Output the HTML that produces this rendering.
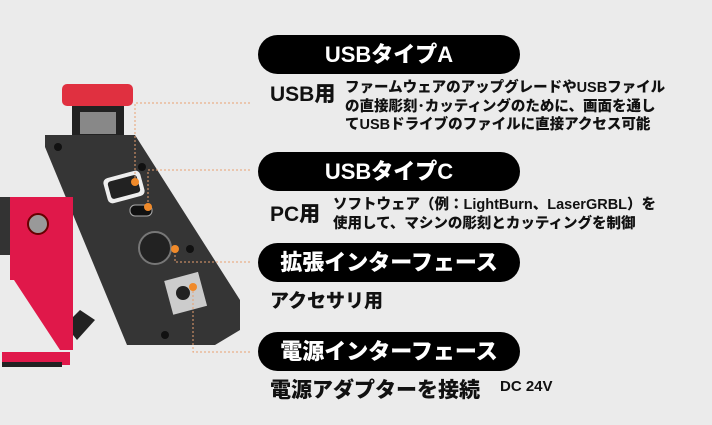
<!DOCTYPE html>
<html><head><meta charset="utf-8"><style>
body{margin:0;width:712px;height:425px;background:#ebebeb;position:relative;overflow:hidden;font-family:"Liberation Sans","Noto Sans CJK JP",sans-serif;font-weight:bold;color:#111}
.pill{position:absolute;left:258px;width:262px;height:39px;background:#000;border-radius:20px;color:#fff;font-size:22px;line-height:39px;text-align:center;font-weight:900}
.t{position:absolute;white-space:nowrap;font-weight:900}
</style></head><body>
<svg width="712" height="425" style="position:absolute;left:0;top:0">
<rect x="72" y="103" width="52" height="34" fill="#222"/>
<rect x="80" y="112" width="36" height="22" fill="#888"/>
<rect x="62" y="84" width="71" height="22" rx="5" fill="#e03040"/>
<path d="M45 135 H135 L240 300 V330 L215 345 H127 L45 147 Z" fill="#353535"/>
<path d="M95 320 l-15 -10 l-15 15 l12 15 z" fill="#222"/>
<rect x="105" y="174" width="38" height="26" rx="5" fill="#eee" transform="rotate(-15 124 187)"/>
<rect x="109" y="178" width="30" height="18" rx="3" fill="#222" transform="rotate(-15 124 187)"/>
<rect x="130" y="205" width="22" height="11" rx="5" fill="#111" stroke="#aaa"/>
<circle cx="155" cy="248" r="16" fill="#222" stroke="#777" stroke-width="2"/>
<rect x="168" y="276" width="35" height="35" fill="#ccc" transform="rotate(-15 185 293)"/>
<circle cx="183" cy="293" r="7" fill="#222"/>
<circle cx="58" cy="147" r="4" fill="#111"/><circle cx="142" cy="167" r="4" fill="#111"/><circle cx="190" cy="249" r="4" fill="#111"/><circle cx="165" cy="335" r="4" fill="#111"/>
<rect x="0" y="197" width="12" height="58" fill="#333"/>
<path d="M10 197 H73 V350 H60 L14 280 H10 Z" fill="#e0184a"/>
<rect x="2" y="352" width="68" height="13" fill="#e0184a"/>
<rect x="2" y="362" width="60" height="5" fill="#222"/>
<circle cx="38" cy="224" r="10" fill="#999" stroke="#600" stroke-width="2"/>
<g stroke="#e8a070" stroke-width="1" stroke-dasharray="2,2" fill="none">
<path d="M250 103 H135 V182"/><path d="M250 170 H148 V207"/><path d="M250 262 H175 V249"/><path d="M250 352 H193 V287"/>
</g>
<g fill="#f08a2a"><circle cx="135" cy="182" r="4"/><circle cx="148" cy="207" r="4"/><circle cx="175" cy="249" r="4"/><circle cx="193" cy="287" r="4"/></g>
</svg>
<div class="pill" style="top:35px">USBタイプA</div>
<div class="pill" style="top:152px">USBタイプC</div>
<div class="pill" style="top:243px">拡張インターフェース</div>
<div class="pill" style="top:332px">電源インターフェース</div>
<div class="t" style="left:270px;top:78px;font-size:21px">USB用</div>
<div class="t" style="left:345px;top:79px;font-size:14.5px;line-height:18.5px">ファームウェアのアップグレードやUSBファイル<br>の直接彫刻･カッティングのために、画面を通し<br>てUSBドライブのファイルに直接アクセス可能</div>
<div class="t" style="left:270px;top:198px;font-size:21px">PC用</div>
<div class="t" style="left:333px;top:196px;font-size:14.5px;line-height:18.5px">ソフトウェア（例：LightBurn、LaserGRBL）を<br>使用して、マシンの彫刻とカッティングを制御</div>
<div class="t" style="left:270px;top:286px;font-size:19px">アクセサリ用</div>
<div class="t" style="left:270px;top:374px;font-size:21px">電源アダプターを接続</div>
<div class="t" style="left:500px;top:378px;font-size:15px">DC 24V</div>
</body></html>
